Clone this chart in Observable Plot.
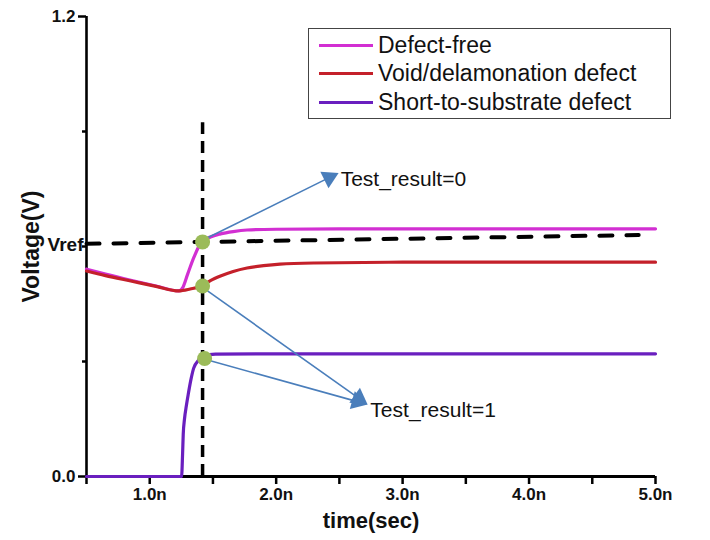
<!DOCTYPE html>
<html><head><meta charset="utf-8">
<script src="https://cdn.jsdelivr.net/npm/d3@7"></script>
<script src="https://cdn.jsdelivr.net/npm/@observablehq/plot@0.6"></script>
<style>
body{margin:0;background:#fff;}
#wrap{position:relative;width:710px;height:540px;overflow:hidden;}
#legend{position:absolute;left:308px;top:28px;width:361px;height:89px;border:1px solid #444;background:#fff;font-family:"Liberation Sans",Arial,sans-serif;font-size:23px;color:#111;}
.row{position:absolute;left:0;height:28px;display:flex;align-items:center;white-space:nowrap;}
.sw{display:inline-block;width:54px;height:3px;margin-left:10px;margin-right:5px;}
</style></head><body><div id="wrap"></div>
<script>
// ---- data (time in ns, voltage in V) ----
const seriesNames = ["Defect-free", "Void/delamonation defect", "Short-to-substrate defect"];
const seriesColors = ["#d22fd2", "#c4202a", "#6a1fbf"];

const timeDefectFree = [0.5, 0.65, 0.85, 1.05, 1.23, 1.26, 1.30, 1.35, 1.41, 1.48, 1.56, 1.66, 1.77, 2.0, 2.5, 3.0, 4.0, 5.0];
const voltDefectFree = [0.541, 0.528, 0.512, 0.497, 0.484, 0.492, 0.528, 0.572, 0.612, 0.625, 0.633, 0.639, 0.643, 0.645, 0.646, 0.646, 0.646, 0.646];

const timeVoid = [0.5, 0.65, 0.85, 1.05, 1.23, 1.32, 1.41, 1.48, 1.56, 1.66, 1.77, 1.9, 2.03, 2.3, 3.0, 4.0, 5.0];
const voltVoid = [0.536, 0.524, 0.510, 0.496, 0.484, 0.489, 0.497, 0.511, 0.523, 0.535, 0.544, 0.550, 0.554, 0.557, 0.559, 0.559, 0.559];

const timeShort = [0.5, 1.0, 1.252, 1.26, 1.265, 1.275, 1.29, 1.305, 1.323, 1.347, 1.386, 1.426, 1.52, 2.0, 3.0, 4.0, 5.0];
const voltShort = [0, 0, 0, 0.06, 0.11, 0.15, 0.185, 0.215, 0.248, 0.282, 0.303, 0.314, 0.319, 0.320, 0.320, 0.320, 0.320];

const xMajorTicks = [1, 2, 3, 4, 5];
const xTickLabels = ["1.0n", "2.0n", "3.0n", "4.0n", "5.0n"];
const xMinorTicks = [0.5, 1.5, 2.5, 3.5, 4.5];
const yMajorTicks = [0, 1.2];
const yTickLabels = ["0.0", "1.2"];
const yMinorTicks = [0.3, 0.6, 0.9];
const vrefLabel = "Vref";
const vrefTick = 0.6;

const sampleTime = 1.418;          // vertical dashed line
const sampleLineTop = 0.923;
const vrefTimes = [0.5, 4.867];    // horizontal dashed reference
const vrefVolts = [0.607, 0.630];

const markerTimes = [1.418, 1.418, 1.434];
const markerVolts = [0.612, 0.497, 0.308];

const arrowStartT = [1.441, 1.457, 1.465];
const arrowStartV = [0.620, 0.484, 0.303];
const arrowEndT = [2.494, 2.723, 2.723];
const arrowEndV = [0.792, 0.188, 0.188];

const noteTexts = ["Test_result=0", "Test_result=1"];
const noteTimes = [2.51, 2.745];
const noteVolts = [0.776, 0.173];

// ---- build ----
const W = 710, H = 540, mT = 16, mB = 64, mL = 86, mR = 55;
const xDomain = [0.5, 5], yDomain = [0, 1.2];
const X = Plot.scale({x: {domain: xDomain, range: [mL, W - mR]}});
const Y = Plot.scale({y: {domain: yDomain, range: [H - mB, mT]}});

const toRows = (ts, vs) => ts.map((t, i) => ({t, v: vs[i]}));
const curves = [toRows(timeDefectFree, voltDefectFree), toRows(timeVoid, voltVoid), toRows(timeShort, voltShort)];

// arrows: shaft + filled triangle head
const headR = 6.8;
const tipDist = 2 * Math.sqrt(Math.PI * headR * headR / (3 * Math.sqrt(3)));
const arrows = arrowStartT.map((t0, i) => {
  const px0 = X.apply(t0), py0 = Y.apply(arrowStartV[i]);
  const px1 = X.apply(arrowEndT[i]), py1 = Y.apply(arrowEndV[i]);
  const dx = px1 - px0, dy = py1 - py0, L = Math.hypot(dx, dy);
  const ux = dx / L, uy = dy / L;
  const cx = px1 - ux * tipDist, cy = py1 - uy * tipDist;
  return {t0, v0: arrowStartV[i], tc: X.invert(cx), vc: Y.invert(cy), rot: Math.atan2(ux, -uy) * 180 / Math.PI};
});

const boldFont = '"Liberation Sans Narrow","Arial Narrow","Liberation Sans",Arial,sans-serif';
const yTitlePos = {t: X.invert(31), v: Y.invert(246)};

const chart = Plot.plot({
  width: W, height: H,
  marginTop: mT, marginBottom: mB, marginLeft: mL, marginRight: mR,
  x: {domain: xDomain, axis: null},
  y: {domain: yDomain, axis: null},
  style: {background: "transparent", overflow: "visible"},
  marks: [
    // ticks
    Plot.axisX(xMajorTicks.concat(xMinorTicks), {anchor: "bottom", tickSize: 8, tickFormat: () => "", strokeWidth: 2.5, stroke: "#000"}),
    Plot.axisY(yMajorTicks, {anchor: "left", tickSize: 8, tickFormat: () => "", strokeWidth: 2.5, stroke: "#000"}),
    Plot.axisY(yMinorTicks, {anchor: "left", tickSize: 4, tickFormat: () => "", strokeWidth: 2.5, stroke: "#000"}),
    // axis lines
    Plot.ruleY([0], {stroke: "#000", strokeWidth: 3}),
    Plot.ruleX([0.5], {stroke: "#000", strokeWidth: 2.6}),
    // tick labels
    Plot.text(xMajorTicks, {x: d => d, y: 0, dy: 18, text: (d, i) => xTickLabels[i], fontFamily: boldFont, fontWeight: "bold", fontSize: 17, fill: "#111"}),
    Plot.text(yMajorTicks, {x: 0.5, y: d => d, dx: -11, textAnchor: "end", text: (d, i) => yTickLabels[i], fontFamily: boldFont, fontWeight: "bold", fontSize: 17, fill: "#111"}),
    Plot.text([vrefLabel], {x: 0.5, y: vrefTick + 0.005, dx: -3, textAnchor: "end", text: d => d, fontFamily: boldFont, fontWeight: "bold", fontSize: 19, fill: "#111"}),
    // axis titles
    Plot.text(["time(sec)"], {frameAnchor: "bottom", dy: 51, text: d => d, fontFamily: boldFont, fontWeight: "bold", fontSize: 22, fill: "#111"}),
    Plot.text(["Voltage(V)"], {x: yTitlePos.t, y: yTitlePos.v, rotate: -90, text: d => d, fontFamily: boldFont, fontWeight: "bold", fontSize: 23, fill: "#111"}),
    // curves
    Plot.line(curves[0], {x: "t", y: "v", stroke: seriesColors[0], strokeWidth: 3.2, curve: "monotone-x"}),
    Plot.line(curves[1], {x: "t", y: "v", stroke: seriesColors[1], strokeWidth: 3.2, curve: "monotone-x"}),
    Plot.line(curves[2], {x: "t", y: "v", stroke: seriesColors[2], strokeWidth: 3.2, curve: "monotone-x"}),
    // dashed guide lines
    Plot.ruleX([sampleTime], {y1: 0, y2: sampleLineTop, stroke: "#000", strokeWidth: 3.5, strokeDasharray: "12,7"}),
    Plot.line(toRows(vrefTimes, vrefVolts), {x: "t", y: "v", stroke: "#000", strokeWidth: 4, strokeDasharray: "13,14"}),
    // arrows
    Plot.link(arrows, {x1: "t0", y1: "v0", x2: "tc", y2: "vc", stroke: "#4a7ebb", strokeWidth: 1.6}),
    Plot.dot(arrows, {x: "tc", y: "vc", symbol: "triangle", r: headR, rotate: "rot", fill: "#4a7ebb", stroke: null}),
    // sample points
    Plot.dot(toRows(markerTimes, markerVolts), {x: "t", y: "v", r: 7.5, fill: "#9bbb59", stroke: null}),
    // notes
    Plot.text(noteTexts, {x: (d, i) => noteTimes[i], y: (d, i) => noteVolts[i], text: d => d, textAnchor: "start", fontFamily: '"Liberation Sans",Arial,sans-serif', fontSize: 21, fill: "#111"})
  ]
});

const wrap = document.getElementById("wrap");
wrap.appendChild(chart);

// legend
const legend = document.createElement("div");
legend.id = "legend";
seriesNames.forEach((name, i) => {
  const row = document.createElement("div");
  row.className = "row";
  row.style.top = (2 + i * 28.5) + "px";
  const sw = document.createElement("span");
  sw.className = "sw";
  sw.style.background = seriesColors[i];
  row.appendChild(sw);
  row.appendChild(document.createTextNode(name));
  legend.appendChild(row);
});
wrap.appendChild(legend);
</script>
</body></html>
